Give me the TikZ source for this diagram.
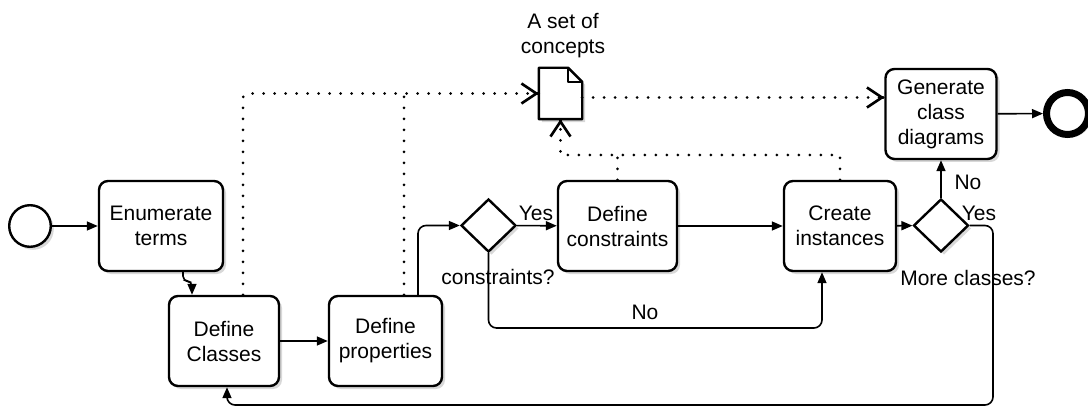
\documentclass[tikz,border=0pt]{standalone}
\usepackage{fontspec}
\setmainfont{Liberation Sans}
\usetikzlibrary{arrows.meta,shapes.geometric,shadows}

\begin{document}
\begin{tikzpicture}[x=1pt,y=-1pt,
  font=\fontsize{21}{25}\selectfont,
  shade/.style={drop shadow={shadow xshift=3pt,shadow yshift=-3pt,fill=black!22,opacity=.7}},
  task/.style={draw,line width=2.4pt,rounded corners=9pt,fill=white,align=center,
    inner sep=0pt,shade},
  gate/.style={diamond,draw,line width=2.4pt,fill=white,inner sep=0pt,aspect=1,
    minimum width=55pt,minimum height=53pt,shade},
  flow/.style={line width=1.6pt,-{Triangle[length=11pt,width=9pt]}},
  assocline/.style={line width=3pt,line cap=round,dash pattern=on 0pt off 11pt},
  barb/.style={line width=2.6pt,line cap=round,line join=miter,
    -{Straight Barb[length=15pt,width=20pt,line width=2.6pt]}},
  lbl/.style={inner sep=0pt,align=center}
]
\useasboundingbox (0,0) rectangle (1088,409);

% events
\node[circle,draw,line width=2.4pt,fill=white,minimum size=41.6pt,inner sep=0pt,shade] (start) at (30,226) {};
\node[circle,draw,line width=7pt,fill=white,minimum size=42pt,inner sep=0pt,shade] (end) at (1067.5,113.5) {};

% tasks
\node[task,minimum width=124pt,minimum height=90pt] (enum) at (161,226) {Enumerate\\terms};
\node[task,minimum width=110pt,minimum height=90pt] (cls) at (224,341) {Define\\Classes};
\node[task,minimum width=113pt,minimum height=90pt] (prop) at (385.5,341) {Define\\properties};
\node[task,minimum width=119pt,minimum height=90pt] (dc) at (617.5,226) {Define\\constraints};
\node[task,minimum width=112pt,minimum height=90pt] (ci) at (840,226) {Create\\instances};
\node[task,minimum width=111pt,minimum height=90pt] (gen) at (941,114) {Generate\\class\\diagrams};

% gateways
\node[gate] (d1) at (488.5,225.5) {};
\node[gate] (d2) at (941,225.5) {};

% data object
\node[minimum width=43pt,minimum height=51pt,inner sep=0pt] (doc) at (560.5,93.5) {};
\fill[black!22,opacity=.7] ([shift={(3pt,-3pt)}]doc.north west) -- ([shift={(-11pt,-3pt)}]doc.north east)
  -- ([shift={(3pt,-17pt)}]doc.north east) -- ([shift={(3pt,-3pt)}]doc.south east)
  -- ([shift={(3pt,-3pt)}]doc.south west) -- cycle;
\draw[line width=2.4pt,fill=white,line join=round] (doc.north west) -- ([xshift=-14pt]doc.north east)
  -- ([yshift=-14pt]doc.north east) -- (doc.south east) -- (doc.south west) -- cycle;
\draw[line width=1.8pt,line join=round] ([xshift=-14pt]doc.north east) |- ([yshift=-14pt]doc.north east);
\node[lbl] (doclabel) at (563,36) {A set of\\concepts};

% sequence flows
\draw[flow] (start) -- (enum);
\draw[flow,rounded corners=5pt] ([xshift=22pt]enum.south) -- ++(0,9) -| ([xshift=-32pt]cls.north);
\draw[flow] (cls) -- (prop);
\draw[flow,rounded corners=8pt] ([xshift=32.5pt]prop.north) |- (d1.west);
\draw[flow] (d1) -- (dc);
\draw[flow] (dc) -- (ci);
\coordinate (nobend) at (488.5,328);
\draw[flow,rounded corners=8pt] (d1.south) -- (nobend) -| ([xshift=-18pt]ci.south);
\draw[flow] (ci) -- (d2);
\draw[flow] (d2) -- (gen);
\draw[flow] (gen) -- (end);
\coordinate (loopcorner) at (993,405);
\draw[flow,rounded corners=8pt] (d2.east) -| (loopcorner) -| ([xshift=3pt]cls.south);

% data associations: dotted lines with open barbs at their targets
\draw[assocline,rounded corners=4pt] ([xshift=19pt]cls.north) |- (doc.west);
\draw[barb] ([xshift=-1pt]doc.west) -- (doc.west);
\draw[assocline] ([xshift=18.5pt]prop.north) -- ([xshift=18.5pt]prop.north |- doc.west);
\coordinate (genin) at ([yshift=-4pt]doc.east -| gen.west);
\draw[assocline] ([yshift=-4pt]doc.east) -- (genin);
\draw[barb] ([xshift=-1pt]genin) -- (genin);
\coordinate (collect) at (840,155);
\draw[assocline] (ci.north) -- (collect) -| (doc.south);
\draw[barb] ([yshift=-1pt]doc.south) -- (doc.south);
\draw[assocline] (dc.north) -- (dc.north |- collect);

% labels
\node[lbl] at (536,213) {Yes};
\node[lbl] at (498,277) {constraints?};
\node[lbl] at (645,312) {No};
\node[lbl] at (968,182) {No};
\node[lbl] at (979,213) {Yes};
\node[lbl] at (968,278) {More classes?};
\end{tikzpicture}
\end{document}
